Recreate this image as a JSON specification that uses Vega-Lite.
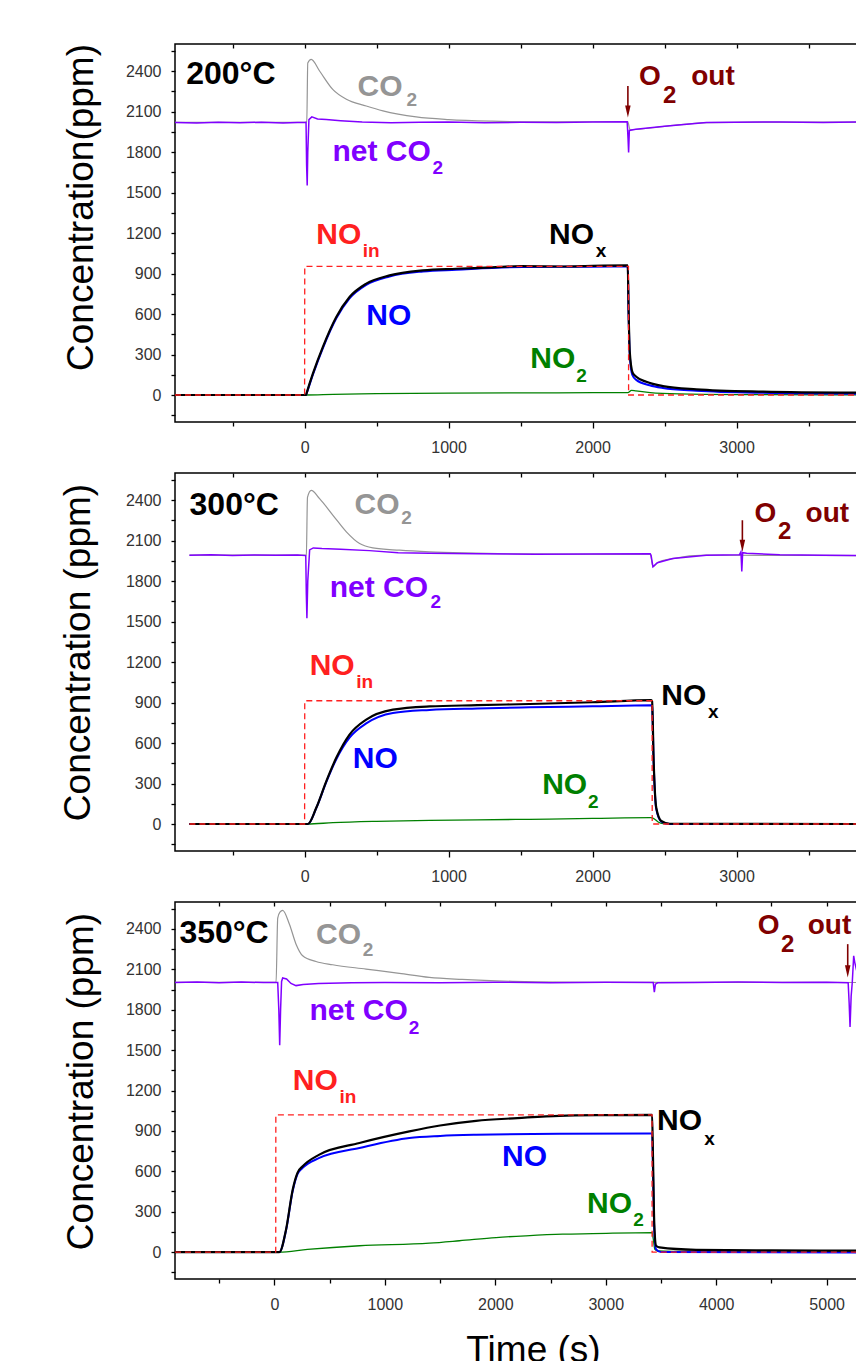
{
"$schema":"https://vega.github.io/schema/vega-lite/v6.json",
"autosize":{"type":"none"},
"padding":{"left":175,"top":44,"right":681,"bottom":1317},
"background":"white",
"config":{
"view":{"stroke":"#000","strokeWidth":1.5},
"axis":{"labelFont":"Liberation Sans","labelFontSize":16,"labelColor":"#333","tickColor":"#000","tickWidth":1.3,"domain":false,"grid":false,"titleFont":"Liberation Sans","titleFontWeight":"normal","titleColor":"#000","titleFontSize":37,"labelOverlap":false,"labelFlush":false},
"text":{"font":"Liberation Sans","fontWeight":"bold","align":"left","baseline":"alphabetic"}
},
"datasets":{
"lines":[
{"p":1,"s":"CO2","t":-900,"ppm":2020},{"p":1,"s":"CO2","t":0,"ppm":2020},{"p":1,"s":"CO2","t":15,"ppm":2025},{"p":1,"s":"CO2","t":22,"ppm":2460},{"p":1,"s":"CO2","t":46,"ppm":2486},{"p":1,"s":"CO2","t":104,"ppm":2400},{"p":1,"s":"CO2","t":197,"ppm":2262},{"p":1,"s":"CO2","t":290,"ppm":2191},{"p":1,"s":"CO2","t":428,"ppm":2141},{"p":1,"s":"CO2","t":544,"ppm":2105},{"p":1,"s":"CO2","t":775,"ppm":2060},{"p":1,"s":"CO2","t":1000,"ppm":2040},{"p":1,"s":"CO2","t":1300,"ppm":2028},{"p":1,"s":"CO2","t":1600,"ppm":2024},{"p":1,"s":"CO2","t":2000,"ppm":2024},{"p":1,"s":"CO2","t":2244,"ppm":2025},{"p":1,"s":"CO2","t":2260,"ppm":1965},{"p":1,"s":"CO2","t":2500,"ppm":1990},{"p":1,"s":"CO2","t":2790,"ppm":2018},{"p":1,"s":"CO2","t":3200,"ppm":2022},{"p":1,"s":"CO2","t":3836,"ppm":2022},
{"p":1,"s":"netCO2","t":-900,"ppm":2018},{"p":1,"s":"netCO2","t":-750,"ppm":2014},{"p":1,"s":"netCO2","t":-600,"ppm":2020},{"p":1,"s":"netCO2","t":-450,"ppm":2016},{"p":1,"s":"netCO2","t":-300,"ppm":2021},{"p":1,"s":"netCO2","t":-150,"ppm":2015},{"p":1,"s":"netCO2","t":-50,"ppm":2019},{"p":1,"s":"netCO2","t":10,"ppm":2018},{"p":1,"s":"netCO2","t":14,"ppm":1700},{"p":1,"s":"netCO2","t":18,"ppm":1552},{"p":1,"s":"netCO2","t":22,"ppm":1800},{"p":1,"s":"netCO2","t":30,"ppm":2040},{"p":1,"s":"netCO2","t":50,"ppm":2060},{"p":1,"s":"netCO2","t":90,"ppm":2045},{"p":1,"s":"netCO2","t":150,"ppm":2040},{"p":1,"s":"netCO2","t":250,"ppm":2032},{"p":1,"s":"netCO2","t":400,"ppm":2022},{"p":1,"s":"netCO2","t":600,"ppm":2016},{"p":1,"s":"netCO2","t":800,"ppm":2020},{"p":1,"s":"netCO2","t":1000,"ppm":2022},{"p":1,"s":"netCO2","t":1250,"ppm":2017},{"p":1,"s":"netCO2","t":1500,"ppm":2020},{"p":1,"s":"netCO2","t":1750,"ppm":2018},{"p":1,"s":"netCO2","t":2000,"ppm":2022},{"p":1,"s":"netCO2","t":2240,"ppm":2024},{"p":1,"s":"netCO2","t":2246,"ppm":1900},{"p":1,"s":"netCO2","t":2250,"ppm":1797},{"p":1,"s":"netCO2","t":2255,"ppm":1960},{"p":1,"s":"netCO2","t":2300,"ppm":1968},{"p":1,"s":"netCO2","t":2500,"ppm":1990},{"p":1,"s":"netCO2","t":2790,"ppm":2018},{"p":1,"s":"netCO2","t":3000,"ppm":2020},{"p":1,"s":"netCO2","t":3300,"ppm":2023},{"p":1,"s":"netCO2","t":3600,"ppm":2019},{"p":1,"s":"netCO2","t":3836,"ppm":2022},
{"p":1,"s":"NO2","t":-900,"ppm":0},{"p":1,"s":"NO2","t":10,"ppm":0},{"p":1,"s":"NO2","t":200,"ppm":5},{"p":1,"s":"NO2","t":500,"ppm":10},{"p":1,"s":"NO2","t":1000,"ppm":14},{"p":1,"s":"NO2","t":1500,"ppm":16},{"p":1,"s":"NO2","t":2000,"ppm":17},{"p":1,"s":"NO2","t":2245,"ppm":18},{"p":1,"s":"NO2","t":2270,"ppm":35},{"p":1,"s":"NO2","t":2300,"ppm":30},{"p":1,"s":"NO2","t":2400,"ppm":18},{"p":1,"s":"NO2","t":2600,"ppm":8},{"p":1,"s":"NO2","t":3000,"ppm":3},{"p":1,"s":"NO2","t":3836,"ppm":1},
{"p":1,"s":"NO","t":-900,"ppm":0},{"p":1,"s":"NO","t":10,"ppm":0},{"p":1,"s":"NO","t":15,"ppm":15},{"p":1,"s":"NO","t":58,"ppm":152},{"p":1,"s":"NO","t":127,"ppm":348},{"p":1,"s":"NO","t":220,"ppm":568},{"p":1,"s":"NO","t":312,"ppm":716},{"p":1,"s":"NO","t":428,"ppm":816},{"p":1,"s":"NO","t":590,"ppm":878},{"p":1,"s":"NO","t":822,"ppm":915},{"p":1,"s":"NO","t":1053,"ppm":928},{"p":1,"s":"NO","t":1516,"ppm":948},{"p":1,"s":"NO","t":2000,"ppm":950},{"p":1,"s":"NO","t":2244,"ppm":952},{"p":1,"s":"NO","t":2250,"ppm":600},{"p":1,"s":"NO","t":2258,"ppm":300},{"p":1,"s":"NO","t":2275,"ppm":150},{"p":1,"s":"NO","t":2303,"ppm":112},{"p":1,"s":"NO","t":2396,"ppm":72},{"p":1,"s":"NO","t":2488,"ppm":52},{"p":1,"s":"NO","t":2720,"ppm":32},{"p":1,"s":"NO","t":3183,"ppm":16},{"p":1,"s":"NO","t":3836,"ppm":9},
{"p":1,"s":"NOx","t":-900,"ppm":0},{"p":1,"s":"NOx","t":10,"ppm":0},{"p":1,"s":"NOx","t":15,"ppm":18},{"p":1,"s":"NOx","t":58,"ppm":160},{"p":1,"s":"NOx","t":127,"ppm":357},{"p":1,"s":"NOx","t":220,"ppm":578},{"p":1,"s":"NOx","t":312,"ppm":726},{"p":1,"s":"NOx","t":428,"ppm":825},{"p":1,"s":"NOx","t":590,"ppm":886},{"p":1,"s":"NOx","t":822,"ppm":923},{"p":1,"s":"NOx","t":1053,"ppm":935},{"p":1,"s":"NOx","t":1300,"ppm":945},{"p":1,"s":"NOx","t":1500,"ppm":955},{"p":1,"s":"NOx","t":1800,"ppm":952},{"p":1,"s":"NOx","t":2000,"ppm":957},{"p":1,"s":"NOx","t":2244,"ppm":960},{"p":1,"s":"NOx","t":2250,"ppm":620},{"p":1,"s":"NOx","t":2258,"ppm":320},{"p":1,"s":"NOx","t":2278,"ppm":165},{"p":1,"s":"NOx","t":2303,"ppm":135},{"p":1,"s":"NOx","t":2373,"ppm":98},{"p":1,"s":"NOx","t":2488,"ppm":66},{"p":1,"s":"NOx","t":2720,"ppm":42},{"p":1,"s":"NOx","t":3183,"ppm":25},{"p":1,"s":"NOx","t":3836,"ppm":17},
{"p":1,"s":"NOin","t":-900,"ppm":0},{"p":1,"s":"NOin","t":0,"ppm":0},{"p":1,"s":"NOin","t":1,"ppm":953},{"p":1,"s":"NOin","t":2249,"ppm":953},{"p":1,"s":"NOin","t":2250,"ppm":0},{"p":1,"s":"NOin","t":3836,"ppm":0},
{"p":2,"s":"CO2","t":-800,"ppm":1991},{"p":2,"s":"CO2","t":0,"ppm":1991},{"p":2,"s":"CO2","t":12,"ppm":1995},{"p":2,"s":"CO2","t":20,"ppm":2420},{"p":2,"s":"CO2","t":46,"ppm":2471},{"p":2,"s":"CO2","t":104,"ppm":2410},{"p":2,"s":"CO2","t":197,"ppm":2287},{"p":2,"s":"CO2","t":290,"ppm":2164},{"p":2,"s":"CO2","t":382,"ppm":2077},{"p":2,"s":"CO2","t":474,"ppm":2045},{"p":2,"s":"CO2","t":660,"ppm":2028},{"p":2,"s":"CO2","t":868,"ppm":2016},{"p":2,"s":"CO2","t":1100,"ppm":2008},{"p":2,"s":"CO2","t":1400,"ppm":2002},{"p":2,"s":"CO2","t":1800,"ppm":1999},{"p":2,"s":"CO2","t":2400,"ppm":2000},{"p":2,"s":"CO2","t":2419,"ppm":1905},{"p":2,"s":"CO2","t":2450,"ppm":1935},{"p":2,"s":"CO2","t":2557,"ppm":1966},{"p":2,"s":"CO2","t":2790,"ppm":1991},{"p":2,"s":"CO2","t":3200,"ppm":1990},{"p":2,"s":"CO2","t":3836,"ppm":1988},
{"p":2,"s":"netCO2","t":-800,"ppm":1991},{"p":2,"s":"netCO2","t":-650,"ppm":1994},{"p":2,"s":"netCO2","t":-500,"ppm":1989},{"p":2,"s":"netCO2","t":-350,"ppm":1993},{"p":2,"s":"netCO2","t":-200,"ppm":1990},{"p":2,"s":"netCO2","t":-50,"ppm":1992},{"p":2,"s":"netCO2","t":8,"ppm":1988},{"p":2,"s":"netCO2","t":12,"ppm":1700},{"p":2,"s":"netCO2","t":16,"ppm":1524},{"p":2,"s":"netCO2","t":22,"ppm":1800},{"p":2,"s":"netCO2","t":35,"ppm":2030},{"p":2,"s":"netCO2","t":60,"ppm":2045},{"p":2,"s":"netCO2","t":120,"ppm":2040},{"p":2,"s":"netCO2","t":250,"ppm":2035},{"p":2,"s":"netCO2","t":450,"ppm":2025},{"p":2,"s":"netCO2","t":650,"ppm":2010},{"p":2,"s":"netCO2","t":868,"ppm":2005},{"p":2,"s":"netCO2","t":1200,"ppm":2002},{"p":2,"s":"netCO2","t":1600,"ppm":1999},{"p":2,"s":"netCO2","t":2000,"ppm":2000},{"p":2,"s":"netCO2","t":2400,"ppm":2001},{"p":2,"s":"netCO2","t":2406,"ppm":1990},{"p":2,"s":"netCO2","t":2419,"ppm":1905},{"p":2,"s":"netCO2","t":2450,"ppm":1935},{"p":2,"s":"netCO2","t":2557,"ppm":1966},{"p":2,"s":"netCO2","t":2790,"ppm":1991},{"p":2,"s":"netCO2","t":3020,"ppm":1995},{"p":2,"s":"netCO2","t":3030,"ppm":2016},{"p":2,"s":"netCO2","t":3036,"ppm":1870},{"p":2,"s":"netCO2","t":3042,"ppm":2010},{"p":2,"s":"netCO2","t":3070,"ppm":2005},{"p":2,"s":"netCO2","t":3300,"ppm":1995},{"p":2,"s":"netCO2","t":3600,"ppm":1990},{"p":2,"s":"netCO2","t":3836,"ppm":1988},
{"p":2,"s":"NO2","t":-800,"ppm":0},{"p":2,"s":"NO2","t":20,"ppm":0},{"p":2,"s":"NO2","t":197,"ppm":10},{"p":2,"s":"NO2","t":500,"ppm":20},{"p":2,"s":"NO2","t":868,"ppm":27},{"p":2,"s":"NO2","t":1200,"ppm":31},{"p":2,"s":"NO2","t":1562,"ppm":35},{"p":2,"s":"NO2","t":2000,"ppm":41},{"p":2,"s":"NO2","t":2405,"ppm":47},{"p":2,"s":"NO2","t":2425,"ppm":40},{"p":2,"s":"NO2","t":2455,"ppm":15},{"p":2,"s":"NO2","t":2490,"ppm":3},{"p":2,"s":"NO2","t":2550,"ppm":0},{"p":2,"s":"NO2","t":3836,"ppm":0},
{"p":2,"s":"NO","t":-800,"ppm":0},{"p":2,"s":"NO","t":23,"ppm":0},{"p":2,"s":"NO","t":81,"ppm":118},{"p":2,"s":"NO","t":151,"ppm":312},{"p":2,"s":"NO","t":220,"ppm":480},{"p":2,"s":"NO","t":312,"ppm":640},{"p":2,"s":"NO","t":428,"ppm":745},{"p":2,"s":"NO","t":613,"ppm":822},{"p":2,"s":"NO","t":868,"ppm":845},{"p":2,"s":"NO","t":1200,"ppm":856},{"p":2,"s":"NO","t":1562,"ppm":864},{"p":2,"s":"NO","t":2000,"ppm":872},{"p":2,"s":"NO","t":2407,"ppm":879},{"p":2,"s":"NO","t":2413,"ppm":870},{"p":2,"s":"NO","t":2424,"ppm":450},{"p":2,"s":"NO","t":2442,"ppm":110},{"p":2,"s":"NO","t":2477,"ppm":18},{"p":2,"s":"NO","t":2535,"ppm":0},{"p":2,"s":"NO","t":3836,"ppm":0},
{"p":2,"s":"NOx","t":-800,"ppm":0},{"p":2,"s":"NOx","t":23,"ppm":0},{"p":2,"s":"NOx","t":81,"ppm":120},{"p":2,"s":"NOx","t":151,"ppm":318},{"p":2,"s":"NOx","t":220,"ppm":490},{"p":2,"s":"NOx","t":312,"ppm":662},{"p":2,"s":"NOx","t":428,"ppm":773},{"p":2,"s":"NOx","t":613,"ppm":847},{"p":2,"s":"NOx","t":868,"ppm":871},{"p":2,"s":"NOx","t":1200,"ppm":880},{"p":2,"s":"NOx","t":1562,"ppm":889},{"p":2,"s":"NOx","t":2000,"ppm":902},{"p":2,"s":"NOx","t":2407,"ppm":918},{"p":2,"s":"NOx","t":2413,"ppm":910},{"p":2,"s":"NOx","t":2424,"ppm":465},{"p":2,"s":"NOx","t":2442,"ppm":120},{"p":2,"s":"NOx","t":2477,"ppm":22},{"p":2,"s":"NOx","t":2535,"ppm":2},{"p":2,"s":"NOx","t":3836,"ppm":0},
{"p":2,"s":"NOin","t":-800,"ppm":0},{"p":2,"s":"NOin","t":0,"ppm":0},{"p":2,"s":"NOin","t":1,"ppm":913},{"p":2,"s":"NOin","t":2413,"ppm":913},{"p":2,"s":"NOin","t":2414,"ppm":0},{"p":2,"s":"NOin","t":3836,"ppm":0},
{"p":3,"s":"CO2","t":-900,"ppm":2003},{"p":3,"s":"CO2","t":0,"ppm":2003},{"p":3,"s":"CO2","t":15,"ppm":2005},{"p":3,"s":"CO2","t":30,"ppm":2480},{"p":3,"s":"CO2","t":50,"ppm":2525},{"p":3,"s":"CO2","t":75,"ppm":2538},{"p":3,"s":"CO2","t":136,"ppm":2435},{"p":3,"s":"CO2","t":196,"ppm":2287},{"p":3,"s":"CO2","t":256,"ppm":2201},{"p":3,"s":"CO2","t":377,"ppm":2158},{"p":3,"s":"CO2","t":528,"ppm":2134},{"p":3,"s":"CO2","t":830,"ppm":2102},{"p":3,"s":"CO2","t":1132,"ppm":2070},{"p":3,"s":"CO2","t":1403,"ppm":2040},{"p":3,"s":"CO2","t":1700,"ppm":2025},{"p":3,"s":"CO2","t":2157,"ppm":2011},{"p":3,"s":"CO2","t":2600,"ppm":2005},{"p":3,"s":"CO2","t":3430,"ppm":2003},{"p":3,"s":"CO2","t":4500,"ppm":2003},{"p":3,"s":"CO2","t":5275,"ppm":2002},
{"p":3,"s":"netCO2","t":-900,"ppm":2003},{"p":3,"s":"netCO2","t":-700,"ppm":2006},{"p":3,"s":"netCO2","t":-500,"ppm":2001},{"p":3,"s":"netCO2","t":-300,"ppm":2005},{"p":3,"s":"netCO2","t":-100,"ppm":2002},{"p":3,"s":"netCO2","t":30,"ppm":2003},{"p":3,"s":"netCO2","t":40,"ppm":1800},{"p":3,"s":"netCO2","t":48,"ppm":1536},{"p":3,"s":"netCO2","t":56,"ppm":1800},{"p":3,"s":"netCO2","t":65,"ppm":2010},{"p":3,"s":"netCO2","t":75,"ppm":2036},{"p":3,"s":"netCO2","t":110,"ppm":2028},{"p":3,"s":"netCO2","t":150,"ppm":1995},{"p":3,"s":"netCO2","t":196,"ppm":1979},{"p":3,"s":"netCO2","t":260,"ppm":1988},{"p":3,"s":"netCO2","t":400,"ppm":1995},{"p":3,"s":"netCO2","t":700,"ppm":2000},{"p":3,"s":"netCO2","t":1000,"ppm":2003},{"p":3,"s":"netCO2","t":1500,"ppm":2000},{"p":3,"s":"netCO2","t":2000,"ppm":2004},{"p":3,"s":"netCO2","t":2500,"ppm":2001},{"p":3,"s":"netCO2","t":3000,"ppm":2004},{"p":3,"s":"netCO2","t":3430,"ppm":2003},{"p":3,"s":"netCO2","t":3440,"ppm":1930},{"p":3,"s":"netCO2","t":3450,"ppm":1990},{"p":3,"s":"netCO2","t":3470,"ppm":2000},{"p":3,"s":"netCO2","t":3800,"ppm":2002},{"p":3,"s":"netCO2","t":4200,"ppm":2005},{"p":3,"s":"netCO2","t":4600,"ppm":2002},{"p":3,"s":"netCO2","t":5000,"ppm":2004},{"p":3,"s":"netCO2","t":5195,"ppm":2001},{"p":3,"s":"netCO2","t":5204,"ppm":1850},{"p":3,"s":"netCO2","t":5212,"ppm":1671},{"p":3,"s":"netCO2","t":5222,"ppm":1900},{"p":3,"s":"netCO2","t":5232,"ppm":2000},{"p":3,"s":"netCO2","t":5245,"ppm":2200},{"p":3,"s":"netCO2","t":5255,"ppm":2150},{"p":3,"s":"netCO2","t":5275,"ppm":2080},
{"p":3,"s":"NO2","t":-900,"ppm":0},{"p":3,"s":"NO2","t":40,"ppm":0},{"p":3,"s":"NO2","t":300,"ppm":20},{"p":3,"s":"NO2","t":770,"ppm":47},{"p":3,"s":"NO2","t":1403,"ppm":66},{"p":3,"s":"NO2","t":1675,"ppm":84},{"p":3,"s":"NO2","t":2007,"ppm":108},{"p":3,"s":"NO2","t":2278,"ppm":121},{"p":3,"s":"NO2","t":2610,"ppm":133},{"p":3,"s":"NO2","t":2882,"ppm":137},{"p":3,"s":"NO2","t":3420,"ppm":145},{"p":3,"s":"NO2","t":3430,"ppm":100},{"p":3,"s":"NO2","t":3445,"ppm":20},{"p":3,"s":"NO2","t":3470,"ppm":8},{"p":3,"s":"NO2","t":3600,"ppm":5},{"p":3,"s":"NO2","t":5275,"ppm":3},
{"p":3,"s":"NO","t":-900,"ppm":0},{"p":3,"s":"NO","t":45,"ppm":0},{"p":3,"s":"NO","t":106,"ppm":165},{"p":3,"s":"NO","t":166,"ppm":455},{"p":3,"s":"NO","t":210,"ppm":580},{"p":3,"s":"NO","t":256,"ppm":625},{"p":3,"s":"NO","t":407,"ppm":699},{"p":3,"s":"NO","t":770,"ppm":773},{"p":3,"s":"NO","t":1222,"ppm":847},{"p":3,"s":"NO","t":1500,"ppm":862},{"p":3,"s":"NO","t":1826,"ppm":871},{"p":3,"s":"NO","t":2580,"ppm":879},{"p":3,"s":"NO","t":3420,"ppm":880},{"p":3,"s":"NO","t":3428,"ppm":600},{"p":3,"s":"NO","t":3440,"ppm":150},{"p":3,"s":"NO","t":3456,"ppm":20},{"p":3,"s":"NO","t":3500,"ppm":0},{"p":3,"s":"NO","t":5275,"ppm":-3},
{"p":3,"s":"NOx","t":-900,"ppm":0},{"p":3,"s":"NOx","t":45,"ppm":0},{"p":3,"s":"NOx","t":106,"ppm":170},{"p":3,"s":"NOx","t":166,"ppm":465},{"p":3,"s":"NOx","t":210,"ppm":590},{"p":3,"s":"NOx","t":256,"ppm":637},{"p":3,"s":"NOx","t":407,"ppm":724},{"p":3,"s":"NOx","t":770,"ppm":810},{"p":3,"s":"NOx","t":1222,"ppm":896},{"p":3,"s":"NOx","t":1500,"ppm":940},{"p":3,"s":"NOx","t":1826,"ppm":975},{"p":3,"s":"NOx","t":2200,"ppm":995},{"p":3,"s":"NOx","t":2580,"ppm":1012},{"p":3,"s":"NOx","t":3000,"ppm":1017},{"p":3,"s":"NOx","t":3420,"ppm":1019},{"p":3,"s":"NOx","t":3428,"ppm":700},{"p":3,"s":"NOx","t":3440,"ppm":200},{"p":3,"s":"NOx","t":3456,"ppm":47},{"p":3,"s":"NOx","t":3486,"ppm":35},{"p":3,"s":"NOx","t":3818,"ppm":17},{"p":3,"s":"NOx","t":4500,"ppm":12},{"p":3,"s":"NOx","t":5275,"ppm":10},
{"p":3,"s":"NOin","t":-900,"ppm":0},{"p":3,"s":"NOin","t":12,"ppm":0},{"p":3,"s":"NOin","t":13,"ppm":1019},{"p":3,"s":"NOin","t":3419,"ppm":1019},{"p":3,"s":"NOin","t":3420,"ppm":0},{"p":3,"s":"NOin","t":5275,"ppm":0}
],
"labels":[
{"p":1,"s":"T","r":"temp","txt":"200°C","t":-822,"ppm":2306},
{"p":1,"s":"CO2","r":"main","txt":"CO","t":368,"ppm":2215},
{"p":1,"s":"CO2","r":"sub","txt":"2","t":708,"ppm":2141},
{"p":1,"s":"netCO2","r":"main","txt":"net CO","t":194,"ppm":1735},
{"p":1,"s":"netCO2","r":"sub","txt":"2","t":889,"ppm":1639},
{"p":1,"s":"NOin","r":"main","txt":"NO","t":81,"ppm":1122},
{"p":1,"s":"NOin","r":"sub","txt":"in","t":403,"ppm":1019},
{"p":1,"s":"NO","r":"main","txt":"NO","t":428,"ppm":517},
{"p":1,"s":"NOx","r":"main","txt":"NO","t":1697,"ppm":1120},
{"p":1,"s":"NOx","r":"sub","txt":"x","t":2021,"ppm":1021},
{"p":1,"s":"NO2","r":"main","txt":"NO","t":1567,"ppm":197},
{"p":1,"s":"NO2","r":"sub","txt":"2","t":1887,"ppm":98},
{"p":1,"s":"O2","r":"o2","txt":"O","t":2322,"ppm":2300},
{"p":1,"s":"O2","r":"o2sub","txt":"2","t":2488,"ppm":2166},
{"p":1,"s":"O2","r":"o2","txt":"out","t":2685,"ppm":2300},
{"p":2,"s":"T","r":"temp","txt":"300°C","t":-799,"ppm":2287},
{"p":2,"s":"CO2","r":"main","txt":"CO","t":347,"ppm":2299},
{"p":2,"s":"CO2","r":"sub","txt":"2","t":671,"ppm":2225},
{"p":2,"s":"netCO2","r":"main","txt":"net CO","t":174,"ppm":1684},
{"p":2,"s":"netCO2","r":"sub","txt":"2","t":875,"ppm":1597},
{"p":2,"s":"NOin","r":"main","txt":"NO","t":35,"ppm":1105},
{"p":2,"s":"NOin","r":"sub","txt":"in","t":359,"ppm":1007},
{"p":2,"s":"NO","r":"main","txt":"NO","t":335,"ppm":416},
{"p":2,"s":"NOx","r":"main","txt":"NO","t":2477,"ppm":884},
{"p":2,"s":"NOx","r":"sub","txt":"x","t":2801,"ppm":785},
{"p":2,"s":"NO2","r":"main","txt":"NO","t":1650,"ppm":219},
{"p":2,"s":"NO2","r":"sub","txt":"2","t":1968,"ppm":120},
{"p":2,"s":"O2","r":"o2","txt":"O","t":3125,"ppm":2237},
{"p":2,"s":"O2","r":"o2sub","txt":"2","t":3287,"ppm":2114},
{"p":2,"s":"O2","r":"o2","txt":"out","t":3479,"ppm":2237},
{"p":3,"s":"T","r":"temp","txt":"350°C","t":-860,"ppm":2299},
{"p":3,"s":"CO2","r":"main","txt":"CO","t":377,"ppm":2287},
{"p":3,"s":"CO2","r":"sub","txt":"2","t":800,"ppm":2201},
{"p":3,"s":"netCO2","r":"main","txt":"net CO","t":317,"ppm":1721},
{"p":3,"s":"netCO2","r":"sub","txt":"2","t":1216,"ppm":1622},
{"p":3,"s":"NOin","r":"main","txt":"NO","t":166,"ppm":1204},
{"p":3,"s":"NOin","r":"sub","txt":"in","t":589,"ppm":1105},
{"p":3,"s":"NO","r":"main","txt":"NO","t":2061,"ppm":637},
{"p":3,"s":"NOx","r":"main","txt":"NO","t":3465,"ppm":908},
{"p":3,"s":"NOx","r":"sub","txt":"x","t":3893,"ppm":797},
{"p":3,"s":"NO2","r":"main","txt":"NO","t":2831,"ppm":293},
{"p":3,"s":"NO2","r":"sub","txt":"2","t":3250,"ppm":194},
{"p":3,"s":"O2","r":"o2","txt":"O","t":4376,"ppm":2361},
{"p":3,"s":"O2","r":"o2sub","txt":"2","t":4587,"ppm":2225},
{"p":3,"s":"O2","r":"o2","txt":"out","t":4829,"ppm":2361}
],
"arrows":[
{"p":1,"t":2245,"ppm":2100,"top":2289},
{"p":2,"t":3040,"ppm":2060,"top":2250},
{"p":3,"t":5191,"ppm":2085,"top":2287}
]
},
"spacing":51,
"bounds":"flush",
"vconcat":[
{
"width":682,"height":378,
"encoding":{
"x":{"field":"t","type":"quantitative","scale":{"domain":[-900,3836],"nice":false,"zero":false},"axis":null},
"y":{"field":"ppm","type":"quantitative","scale":{"domain":[-200,2600],"nice":false,"zero":false},"axis":{"orient":"left","values":[-150,0,150,300,450,600,750,900,1050,1200,1350,1500,1650,1800,1950,2100,2250,2400,2550],"format":"d","labelExpr":"datum.value % 300 === 0 ? datum.label : ''","tickSize":4,"labelPadding":10,"title":"Concentration(ppm)","titleX":-83,"titleY":163,"titleAngle":-90,"titleAlign":"center","titleBaseline":"alphabetic"}},
"color":{"field":"s","type":"nominal","scale":{"domain":["CO2","netCO2","NO2","NO","NOx","NOin","O2","T"],"range":["#959595","#8000ff","#008000","#0000ff","#000000","#ff2020","#800000","#000000"]},"legend":null}
},
"layer":[
{"data":{"name":"lines"},"transform":[{"filter":"datum.p==1 && datum.s=='CO2'"}],"mark":{"type":"line","strokeWidth":1.2,"interpolate":"monotone"},
"encoding":{"x":{"field":"t","type":"quantitative","scale":{"domain":[-900,3836],"nice":false,"zero":false},"axis":{"orient":"bottom","values":[-500,0,500,1000,1500,2000,2500,3000,3500],"format":"d","labelExpr":"datum.value % 1000 === 0 ? datum.label : ''","tickSize":{"condition":{"test":"datum.value % 1000 === 0","value":6},"value":4},"labelPadding":11,"title":null}}}},
{"data":{"name":"lines"},"transform":[{"filter":"datum.p==1 && datum.s=='netCO2'"}],"mark":{"type":"line","strokeWidth":1.5},
"encoding":{"x":{"field":"t","type":"quantitative","scale":{"domain":[-900,3836],"nice":false,"zero":false},"axis":{"orient":"top","values":[-500,0,500,1000,1500,2000,2500,3000,3500],"labels":false,"tickSize":-4,"title":null}}}},
{"data":{"name":"lines"},"transform":[{"filter":"datum.p==1 && datum.s=='NO2'"}],"mark":{"type":"line","strokeWidth":1.3,"interpolate":"monotone"}},
{"data":{"name":"lines"},"transform":[{"filter":"datum.p==1 && datum.s=='NO'"}],"mark":{"type":"line","strokeWidth":2,"interpolate":"monotone"}},
{"data":{"name":"lines"},"transform":[{"filter":"datum.p==1 && datum.s=='NOx'"}],"mark":{"type":"line","strokeWidth":2.2,"interpolate":"monotone"}},
{"data":{"name":"lines"},"transform":[{"filter":"datum.p==1 && datum.s=='NOin'"}],"mark":{"type":"line","strokeWidth":1.3,"strokeDash":[6,4]}},
{"data":{"name":"arrows"},"transform":[{"filter":"datum.p==1"}],"mark":{"type":"rule","strokeWidth":1.6},"encoding":{"y2":{"field":"top"},"color":{"value":"#800000"}}},
{"data":{"name":"arrows"},"transform":[{"filter":"datum.p==1"}],"mark":{"type":"point","shape":"M-0.45,-1L0.45,-1L0,1Z","filled":true,"size":150,"opacity":1},"encoding":{"color":{"value":"#800000"}}},
{"data":{"name":"labels"},"transform":[{"filter":"datum.p==1 && datum.r=='main'"}],"mark":{"type":"text","fontSize":30},"encoding":{"text":{"field":"txt"}}},
{"data":{"name":"labels"},"transform":[{"filter":"datum.p==1 && datum.r=='sub'"}],"mark":{"type":"text","fontSize":19},"encoding":{"text":{"field":"txt"}}},
{"data":{"name":"labels"},"transform":[{"filter":"datum.p==1 && datum.r=='temp'"}],"mark":{"type":"text","fontSize":32},"encoding":{"text":{"field":"txt"}}},
{"data":{"name":"labels"},"transform":[{"filter":"datum.p==1 && datum.r=='o2'"}],"mark":{"type":"text","fontSize":28},"encoding":{"text":{"field":"txt"}}},
{"data":{"name":"labels"},"transform":[{"filter":"datum.p==1 && datum.r=='o2sub'"}],"mark":{"type":"text","fontSize":24},"encoding":{"text":{"field":"txt"}}}
],
"resolve":{"axis":{"x":"independent"}}
},
{
"width":682,"height":378,
"encoding":{
"x":{"field":"t","type":"quantitative","scale":{"domain":[-900,3836],"nice":false,"zero":false},"axis":null},
"y":{"field":"ppm","type":"quantitative","scale":{"domain":[-200,2600],"nice":false,"zero":false},"axis":{"orient":"left","values":[-150,0,150,300,450,600,750,900,1050,1200,1350,1500,1650,1800,1950,2100,2250,2400,2550],"format":"d","labelExpr":"datum.value % 300 === 0 ? datum.label : ''","tickSize":4,"labelPadding":10,"title":"Concentration (ppm)","titleX":-86,"titleY":179,"titleAngle":-90,"titleAlign":"center","titleBaseline":"alphabetic"}},
"color":{"field":"s","type":"nominal","scale":{"domain":["CO2","netCO2","NO2","NO","NOx","NOin","O2","T"],"range":["#959595","#8000ff","#008000","#0000ff","#000000","#ff2020","#800000","#000000"]},"legend":null}
},
"layer":[
{"data":{"name":"lines"},"transform":[{"filter":"datum.p==2 && datum.s=='CO2'"}],"mark":{"type":"line","strokeWidth":1.2,"interpolate":"monotone"},
"encoding":{"x":{"field":"t","type":"quantitative","scale":{"domain":[-900,3836],"nice":false,"zero":false},"axis":{"orient":"bottom","values":[-500,0,500,1000,1500,2000,2500,3000,3500],"format":"d","labelExpr":"datum.value % 1000 === 0 ? datum.label : ''","tickSize":{"condition":{"test":"datum.value % 1000 === 0","value":6},"value":4},"labelPadding":11,"title":null}}}},
{"data":{"name":"lines"},"transform":[{"filter":"datum.p==2 && datum.s=='netCO2'"}],"mark":{"type":"line","strokeWidth":1.5},
"encoding":{"x":{"field":"t","type":"quantitative","scale":{"domain":[-900,3836],"nice":false,"zero":false},"axis":{"orient":"top","values":[-500,0,500,1000,1500,2000,2500,3000,3500],"labels":false,"tickSize":-4,"title":null}}}},
{"data":{"name":"lines"},"transform":[{"filter":"datum.p==2 && datum.s=='NO2'"}],"mark":{"type":"line","strokeWidth":1.3,"interpolate":"monotone"}},
{"data":{"name":"lines"},"transform":[{"filter":"datum.p==2 && datum.s=='NO'"}],"mark":{"type":"line","strokeWidth":2,"interpolate":"monotone"}},
{"data":{"name":"lines"},"transform":[{"filter":"datum.p==2 && datum.s=='NOx'"}],"mark":{"type":"line","strokeWidth":2.2,"interpolate":"monotone"}},
{"data":{"name":"lines"},"transform":[{"filter":"datum.p==2 && datum.s=='NOin'"}],"mark":{"type":"line","strokeWidth":1.3,"strokeDash":[6,4]}},
{"data":{"name":"arrows"},"transform":[{"filter":"datum.p==2"}],"mark":{"type":"rule","strokeWidth":1.6},"encoding":{"y2":{"field":"top"},"color":{"value":"#800000"}}},
{"data":{"name":"arrows"},"transform":[{"filter":"datum.p==2"}],"mark":{"type":"point","shape":"M-0.45,-1L0.45,-1L0,1Z","filled":true,"size":150,"opacity":1},"encoding":{"color":{"value":"#800000"}}},
{"data":{"name":"labels"},"transform":[{"filter":"datum.p==2 && datum.r=='main'"}],"mark":{"type":"text","fontSize":30},"encoding":{"text":{"field":"txt"}}},
{"data":{"name":"labels"},"transform":[{"filter":"datum.p==2 && datum.r=='sub'"}],"mark":{"type":"text","fontSize":19},"encoding":{"text":{"field":"txt"}}},
{"data":{"name":"labels"},"transform":[{"filter":"datum.p==2 && datum.r=='temp'"}],"mark":{"type":"text","fontSize":32},"encoding":{"text":{"field":"txt"}}},
{"data":{"name":"labels"},"transform":[{"filter":"datum.p==2 && datum.r=='o2'"}],"mark":{"type":"text","fontSize":28},"encoding":{"text":{"field":"txt"}}},
{"data":{"name":"labels"},"transform":[{"filter":"datum.p==2 && datum.r=='o2sub'"}],"mark":{"type":"text","fontSize":24},"encoding":{"text":{"field":"txt"}}}
],
"resolve":{"axis":{"x":"independent"}}
},
{
"width":682,"height":377,
"encoding":{
"x":{"field":"t","type":"quantitative","scale":{"domain":[-900,5275],"nice":false,"zero":false},"axis":null},
"y":{"field":"ppm","type":"quantitative","scale":{"domain":[-200,2600],"nice":false,"zero":false},"axis":{"orient":"left","values":[-150,0,150,300,450,600,750,900,1050,1200,1350,1500,1650,1800,1950,2100,2250,2400,2550],"format":"d","labelExpr":"datum.value % 300 === 0 ? datum.label : ''","tickSize":4,"labelPadding":10,"title":"Concentration (ppm)","titleX":-83,"titleY":179,"titleAngle":-90,"titleAlign":"center","titleBaseline":"alphabetic"}},
"color":{"field":"s","type":"nominal","scale":{"domain":["CO2","netCO2","NO2","NO","NOx","NOin","O2","T"],"range":["#959595","#8000ff","#008000","#0000ff","#000000","#ff2020","#800000","#000000"]},"legend":null}
},
"layer":[
{"data":{"name":"lines"},"transform":[{"filter":"datum.p==3 && datum.s=='CO2'"}],"mark":{"type":"line","strokeWidth":1.2,"interpolate":"monotone"},
"encoding":{"x":{"field":"t","type":"quantitative","scale":{"domain":[-900,5275],"nice":false,"zero":false},"axis":{"orient":"bottom","values":[-500,0,500,1000,1500,2000,2500,3000,3500,4000,4500,5000],"format":"d","labelExpr":"datum.value % 1000 === 0 ? datum.label : ''","tickSize":{"condition":{"test":"datum.value % 1000 === 0","value":6},"value":4},"labelPadding":11,"title":"Time (s)","titleX":358,"titleY":82,"titleAlign":"center","titleBaseline":"alphabetic","titleAngle":0}}}},
{"data":{"name":"lines"},"transform":[{"filter":"datum.p==3 && datum.s=='netCO2'"}],"mark":{"type":"line","strokeWidth":1.5},
"encoding":{"x":{"field":"t","type":"quantitative","scale":{"domain":[-900,5275],"nice":false,"zero":false},"axis":{"orient":"top","values":[-500,0,500,1000,1500,2000,2500,3000,3500,4000,4500,5000],"labels":false,"tickSize":-4,"title":null}}}},
{"data":{"name":"lines"},"transform":[{"filter":"datum.p==3 && datum.s=='NO2'"}],"mark":{"type":"line","strokeWidth":1.3,"interpolate":"monotone"}},
{"data":{"name":"lines"},"transform":[{"filter":"datum.p==3 && datum.s=='NO'"}],"mark":{"type":"line","strokeWidth":2,"interpolate":"monotone"}},
{"data":{"name":"lines"},"transform":[{"filter":"datum.p==3 && datum.s=='NOx'"}],"mark":{"type":"line","strokeWidth":2.2,"interpolate":"monotone"}},
{"data":{"name":"lines"},"transform":[{"filter":"datum.p==3 && datum.s=='NOin'"}],"mark":{"type":"line","strokeWidth":1.3,"strokeDash":[6,4]}},
{"data":{"name":"arrows"},"transform":[{"filter":"datum.p==3"}],"mark":{"type":"rule","strokeWidth":1.6},"encoding":{"y2":{"field":"top"},"color":{"value":"#800000"}}},
{"data":{"name":"arrows"},"transform":[{"filter":"datum.p==3"}],"mark":{"type":"point","shape":"M-0.45,-1L0.45,-1L0,1Z","filled":true,"size":150,"opacity":1},"encoding":{"color":{"value":"#800000"}}},
{"data":{"name":"labels"},"transform":[{"filter":"datum.p==3 && datum.r=='main'"}],"mark":{"type":"text","fontSize":30},"encoding":{"text":{"field":"txt"}}},
{"data":{"name":"labels"},"transform":[{"filter":"datum.p==3 && datum.r=='sub'"}],"mark":{"type":"text","fontSize":19},"encoding":{"text":{"field":"txt"}}},
{"data":{"name":"labels"},"transform":[{"filter":"datum.p==3 && datum.r=='temp'"}],"mark":{"type":"text","fontSize":32},"encoding":{"text":{"field":"txt"}}},
{"data":{"name":"labels"},"transform":[{"filter":"datum.p==3 && datum.r=='o2'"}],"mark":{"type":"text","fontSize":28},"encoding":{"text":{"field":"txt"}}},
{"data":{"name":"labels"},"transform":[{"filter":"datum.p==3 && datum.r=='o2sub'"}],"mark":{"type":"text","fontSize":24},"encoding":{"text":{"field":"txt"}}}
],
"resolve":{"axis":{"x":"independent"}}
}
]
}
